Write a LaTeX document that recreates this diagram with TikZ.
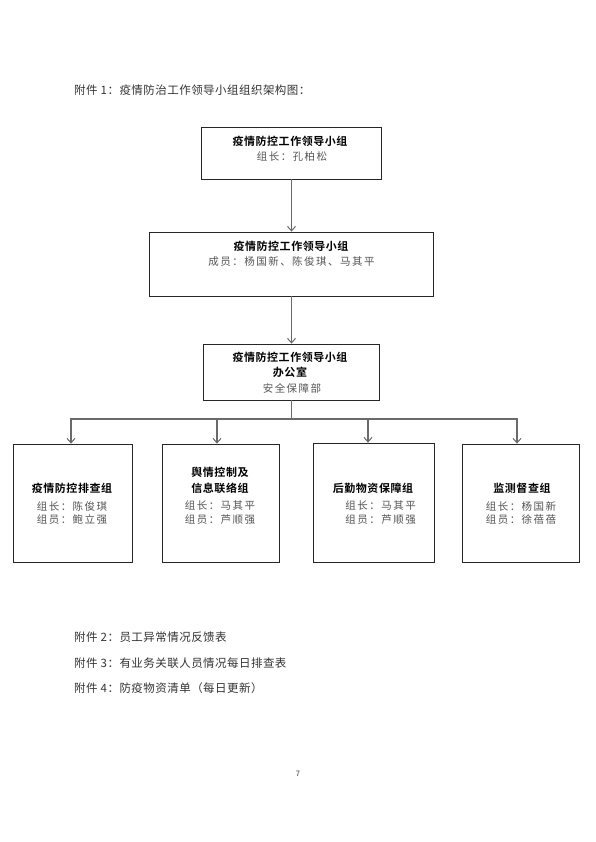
\documentclass[tikz,border=0pt]{standalone}
\usepackage{fontspec}
\usetikzlibrary{arrows.meta}
\newfontfamily\cjk{Noto Sans CJK SC}[LetterSpace=4]
\newfontfamily\cjkb{Noto Sans CJK SC Bold}[LetterSpace=5]
\newfontfamily\cjksp{Noto Sans CJK SC}[LetterSpace=14]
\newfontfamily\cjkplain{Noto Sans CJK SC}
\definecolor{linegray}{HTML}{6A6A6A}
\definecolor{subgray}{HTML}{555555}
\tikzset{
  box/.style={draw=black!85, line width=0.8pt, rectangle, inner sep=0pt},
  conn/.style={draw=linegray, line width=1.2pt},
  arr/.style={conn, -{Straight Barb[length=4.5pt,width=8pt,line width=1pt]}},
  ttl/.style={inner sep=0pt, font=\cjkb\fontsize{11}{12}\selectfont, text=black},
  sub/.style={inner sep=0pt, font=\cjksp\fontsize{10.5}{12}\selectfont, text=subgray},
  page/.style={inner sep=0pt, anchor=west, font=\cjk\fontsize{11.5}{13}\selectfont, text=black!80},
}
\begin{document}
\begin{tikzpicture}[x=1pt,y=-1pt]
\useasboundingbox (0,0) rectangle (596,842);
\fill[white] (0,0) rectangle (596,842);

% header
\node[page] (hdr) at (74,90) {附件 1：疫情防治工作领导小组组织架构图：};

% level 1
\node[box, minimum width=180pt, minimum height=52pt] (b1) at (291.5,153) {};
\node[ttl] (b1t) at (290,141) {疫情防控工作领导小组};
\node[sub] (b1s) at (292,157) {组长：孔柏松};

% level 2
\node[box, minimum width=284pt, minimum height=64pt] (b2) at (291.5,264) {};
\node[ttl] (b2t) at (291,246) {疫情防控工作领导小组};
\node[sub] (b2s) at (291.5,262) {成员：杨国新、陈俊琪、马其平};

% level 3
\node[box, minimum width=176pt, minimum height=56pt] (b3) at (291.5,372) {};
\node[ttl] (b3t) at (290,357) {疫情防控工作领导小组};
\node[ttl] (b3u) at (290,372) {办公室};
\node[sub] (b3s) at (292,388) {安全保障部};

% level 4 boxes
\node[box, minimum width=119pt, minimum height=118pt] (bA) at (72.5,503) {};
\node[box, minimum width=117pt, minimum height=118pt] (bB) at (220.5,503) {};
\node[box, minimum width=121pt, minimum height=119pt] (bC) at (373.5,502.5) {};
\node[box, minimum width=117pt, minimum height=118pt] (bD) at (520.5,503) {};

\node[ttl] (bAt) at (72,488) {疫情防控排查组};
\node[sub] (bAs) at (72,506) {组长：陈俊琪};
\node[sub] (bAm) at (72,520) {组员：鲍立强};

\node[ttl] (bBt) at (220,472) {舆情控制及};
\node[ttl] (bBu) at (220,488) {信息联络组};
\node[sub] (bBs) at (220,506) {组长：马其平};
\node[sub] (bBm) at (220,520) {组员：芦顺强};

\node[ttl] (bCt) at (373,488) {后勤物资保障组};
\node[sub, anchor=east] (bCs) at (416,506) {组长：马其平};
\node[sub, anchor=east] (bCm) at (416,520) {组员：芦顺强};

\node[ttl] (bDt) at (522,488) {监测督查组};
\node[sub] (bDs) at (521,506) {组长：杨国新};
\node[sub] (bDm) at (521,520) {组员：徐蓓蓓};

% connectors
\draw[arr] (b1.south) -- (b2.north);
\draw[arr] (b2.south) -- (b3.north);
\coordinate (bus) at (291.5,419);
\draw[conn] (b3.south) -- (bus);
\draw[arr] (bus) -| ([xshift=-1.5pt]bA.north);
\draw[arr] (bus) -| ([xshift=-3.5pt]bB.north);
\draw[arr] (bus) -| ([xshift=-5.5pt]bC.north);
\draw[arr] (bus) -| ([xshift=-3.5pt]bD.north);

% attachments
\node[page] (a2) at (74,637) {附件 2：员工异常情况反馈表};
\node[page] (a3) at (74,663) {附件 3：有业务关联人员情况每日排查表};
\node[page] (a4) at (74,688) {附件 4：防疫物资清单（每日更新）};

\node[inner sep=0pt, font=\cjkplain\fontsize{7.5}{9}\selectfont, text=black!80] (pg) at (298,774) {7};
\end{tikzpicture}
\end{document}
